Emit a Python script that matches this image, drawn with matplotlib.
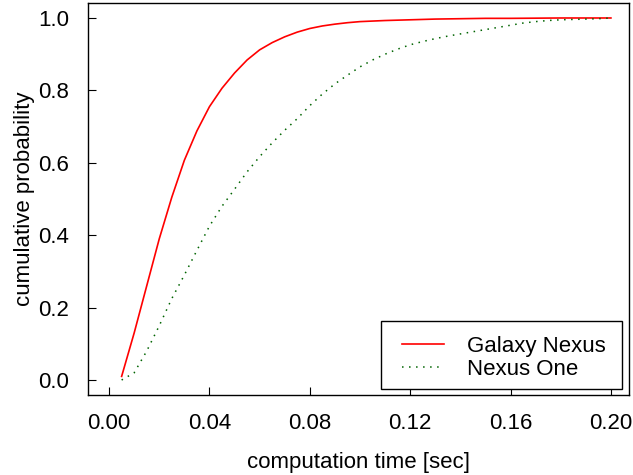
import matplotlib
matplotlib.use("Agg")
import matplotlib.pyplot as plt
from matplotlib.patches import Rectangle

plt.rcParams['font.family'] = ['Liberation Sans', 'DejaVu Sans']

x_galaxy = [0.005, 0.01, 0.015, 0.02, 0.025, 0.03, 0.035, 0.04, 0.045, 0.05,
            0.055, 0.06, 0.065, 0.07, 0.075, 0.08, 0.085, 0.09, 0.095, 0.1,
            0.11, 0.12, 0.13, 0.14, 0.15, 0.16, 0.17, 0.18, 0.19, 0.2]
y_galaxy = [0.01, 0.13, 0.26, 0.39, 0.505, 0.607, 0.688, 0.755, 0.806, 0.848,
            0.884, 0.912, 0.932, 0.948, 0.961, 0.971, 0.978, 0.983, 0.987, 0.99,
            0.993, 0.995, 0.997, 0.998, 0.999, 0.999, 0.9995, 1.0, 1.0, 1.0]

x_nexus = [0.005, 0.01, 0.015, 0.02, 0.025, 0.03, 0.035, 0.04, 0.045, 0.05,
           0.055, 0.06, 0.065, 0.07, 0.075, 0.08, 0.085, 0.09, 0.095, 0.1,
           0.105, 0.11, 0.115, 0.12, 0.125, 0.13, 0.135, 0.14, 0.145, 0.15,
           0.155, 0.16, 0.165, 0.17, 0.175, 0.18, 0.185, 0.19, 0.195, 0.2]
y_nexus = [0.0, 0.02, 0.08, 0.15, 0.225, 0.29, 0.358, 0.425, 0.48, 0.527,
           0.575, 0.617, 0.655, 0.69, 0.722, 0.758, 0.79, 0.818, 0.842, 0.865,
           0.884, 0.90, 0.914, 0.926, 0.935, 0.943, 0.95, 0.956, 0.962, 0.968,
           0.974, 0.98, 0.986, 0.99, 0.993, 0.995, 0.996, 0.997, 0.998, 1.0]

x_ticks = [0.00, 0.04, 0.08, 0.12, 0.16, 0.20]
x_ticklabels = ["0.00", "0.04", "0.08", "0.12", "0.16", "0.20"]
y_ticks = [0.0, 0.2, 0.4, 0.6, 0.8, 1.0]
y_ticklabels = ["0.0", "0.2", "0.4", "0.6", "0.8", "1.0"]

W, H = 633, 475
fig = plt.figure(figsize=(W/100, H/100), dpi=100)
ax = fig.add_axes([88/W, 80/H, (629-88)/W, (395-3)/H])

ax.plot(x_galaxy, y_galaxy, color='red', lw=1.2, label='Galaxy Nexus')
ax.plot(x_nexus, y_nexus, color='darkgreen', lw=1.1, linestyle=(0, (1, 3.6)),
        label='Nexus One')

ax.set_xlim(-0.0084, 0.2072)
ax.set_ylim(-0.0414, 1.0414)
ax.set_xticks(x_ticks)
ax.set_xticklabels(x_ticklabels)
ax.set_yticks(y_ticks)
ax.set_yticklabels(y_ticklabels)

ax.tick_params(direction='in', length=6, width=0.8, labelsize=16, colors='black')
ax.tick_params(axis='y', pad=13.5)
ax.tick_params(axis='x', pad=13)
for s in ax.spines.values():
    s.set_linewidth(1.0)
    s.set_color('black')

ax.set_xlabel('computation time [sec]', fontsize=16, labelpad=13)
ax.set_ylabel('cumulative probability', fontsize=16, labelpad=2)

# legend frame (drawn separately to match the reference box)
frame = Rectangle((381/W, 1 - 389/H), 241/W, 68/H, transform=fig.transFigure,
                  facecolor='white', edgecolor='black', lw=1.0, zorder=4,
                  clip_on=False)
ax.add_patch(frame)

leg = ax.legend(loc='upper left', bbox_to_anchor=(402/W, 1 - 336/H),
                bbox_transform=fig.transFigure,
                fontsize=16, frameon=False, handlelength=1.9, handletextpad=1.03,
                labelspacing=0.08, borderpad=0, borderaxespad=0)
leg.set_zorder(5)

fig.savefig('out.png', dpi=100)
